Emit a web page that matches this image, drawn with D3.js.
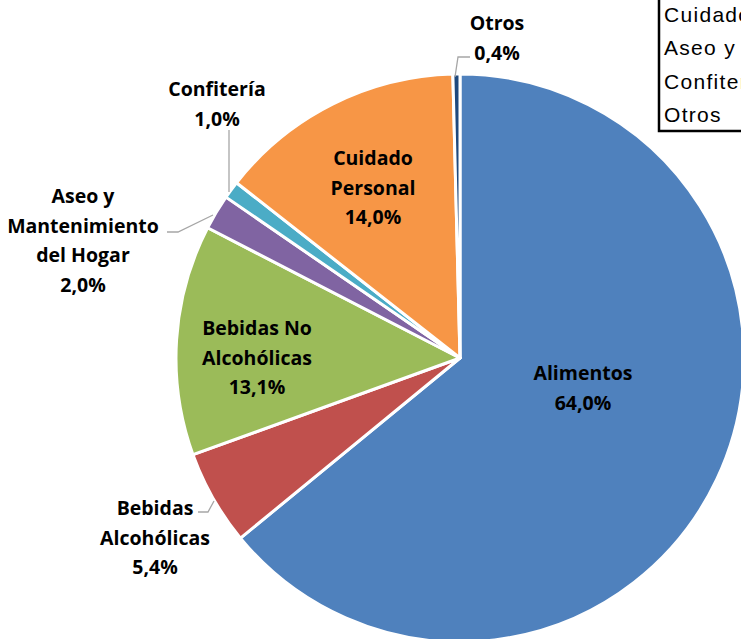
<!DOCTYPE HTML>
<html lang="es">
<head>
  <meta charset="utf-8">
  <title>Participación por categoría</title>
  <script src="https://d3js.org/d3.v7.min.js"></script>
  <style>
    body { margin: 0; background: #fff; overflow: hidden; }
    .lbl { font-family: "Open Sans", Lato, sans-serif; font-weight: bold; font-size: 19.5px; fill: #000; }
    .leg { font-family: "Liberation Sans", Arial, sans-serif; font-size: 21px; letter-spacing: 1.3px; fill: #000; }
  </style>
</head>
<body>
<div id="stage"></div>
<script>
  // slice data, in drawing order (clockwise from 12 o'clock)
  var categories = ["Alimentos", "Bebidas Alcohólicas", "Bebidas No Alcohólicas",
                    "Aseo y Mantenimiento del Hogar", "Confitería", "Cuidado Personal", "Otros"];
  var values = [64.0, 5.4, 13.1, 2.0, 1.0, 14.0, 0.4];
  var colors = ["#4F81BD", "#C0504D", "#9BBB59", "#8064A2", "#4BACC6", "#F79646", "#1F497D"];
  // label lines as shown on the chart
  var labelLines = [["Alimentos"], ["Bebidas", "Alcohólicas"], ["Bebidas  No", "Alcohólicas"],
                    ["Aseo y", "Mantenimiento", "del Hogar"], ["Confitería"], ["Cuidado", "Personal"], ["Otros"]];
  var legendOrder = ["Alimentos", "Bebidas Alcohólicas", "Bebidas No Alcohólicas",
                     "Cuidado Personal", "Aseo y Mantenimiento del Hogar", "Confitería", "Otros"];

  var W = 741, H = 639, cx = 460, cy = 358, R = 284;
  var svg = d3.select("#stage").append("svg").attr("width", W).attr("height", H);

  var pie = d3.pie().sort(null).value(function(d) { return d; });
  var arcs = pie(values);
  var arc = d3.arc().innerRadius(0).outerRadius(R);

  var g = svg.append("g").attr("transform", "translate(" + cx + "," + cy + ")");
  g.selectAll("path").data(arcs).enter().append("path")
    .attr("d", arc)
    .attr("fill", function(d, i) { return colors[i]; })
    .attr("stroke", "#fff").attr("stroke-width", 3).attr("stroke-linejoin", "round");

  var fmt = function(v) { return v.toFixed(1).replace(".", ",") + "%"; };

  // label centre positions (x, first line baseline) and leader lines
  var labelPos = [[583, 380], [155, 515], [257, 335], [83, 203], [217, 96], [373, 165], [497, 30]];
  var leaders = [null,
    [[198, 512], [208, 512], [214, 501]],
    null,
    [[167, 232], [178, 232], [213, 215]],
    [[229, 130], [229, 192]],
    null,
    [[455, 77], [458, 57], [470, 57]]];

  var line = d3.line();
  leaders.forEach(function(pts) {
    if (!pts) return;
    svg.append("path").attr("d", line(pts)).attr("fill", "none")
      .attr("stroke", "#A6A6A6").attr("stroke-width", 1.3);
  });

  arcs.forEach(function(d, i) {
    var lines = labelLines[i].concat([fmt(values[i])]);
    var t = svg.append("text").attr("class", "lbl").attr("text-anchor", "middle")
      .attr("x", labelPos[i][0]).attr("y", labelPos[i][1]);
    lines.forEach(function(s, k) {
      t.append("tspan").attr("x", labelPos[i][0]).attr("dy", k === 0 ? 0 : 29.5).text(s);
    });
  });

  // legend, mostly outside the visible area
  var leg = svg.append("g").attr("transform", "translate(659,0)");
  var step = 33.5, lastY = 122;
  var n = legendOrder.length;
  leg.append("rect").attr("x", 0).attr("y", lastY - step * n + 5).attr("width", 300)
    .attr("height", step * n + 4).attr("fill", "#fff").attr("stroke", "#000").attr("stroke-width", 2.5);
  leg.selectAll("text.leg").data(legendOrder).enter().append("text").attr("class", "leg")
    .attr("x", 5).attr("y", function(d, i) { return lastY - step * (n - 1 - i); })
    .text(function(d) { return d; });
</script>
</body>
</html>
